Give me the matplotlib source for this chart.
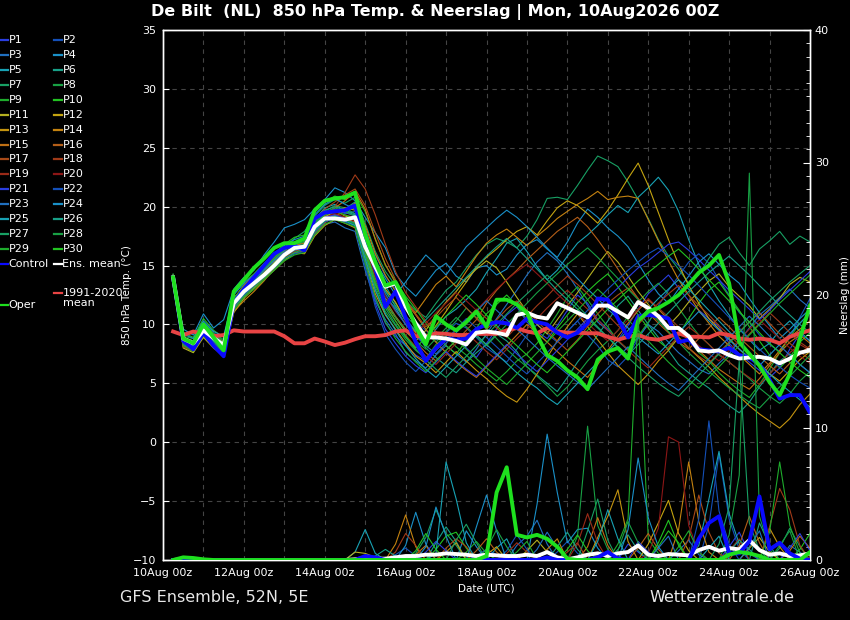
import matplotlib
matplotlib.use("Agg")
import matplotlib.pyplot as plt
import matplotlib.dates as mdates
from matplotlib.lines import Line2D
from matplotlib.ticker import MultipleLocator
import numpy as np
import pandas as pd

# forecast steps: +6h .. +384h of the 10Aug2026 00Z run
run_start = pd.Timestamp("2026-08-10 00:00")
steps = pd.date_range(run_start + pd.Timedelta(hours=6), periods=64, freq="6h")

# 850 hPa temperature (deg C)
oper_t = [14.0, 8.8, 8.4, 10.0, 8.9, 7.8, 12.8, 13.8,
          14.8, 15.6, 16.5, 16.9, 16.9, 17.3, 19.7, 20.5,
          20.7, 20.8, 21.2, 17.6, 15.3, 13.3, 13.6, 12.0,
          9.8, 8.3, 10.7, 10.0, 9.5, 10.2, 11.1, 9.8,
          12.1, 12.1, 11.7, 11.0, 9.1, 7.4, 6.9, 6.1,
          5.5, 4.5, 7.0, 7.7, 8.0, 7.1, 10.3, 11.1,
          11.4, 11.9, 12.5, 13.4, 14.4, 15.0, 15.9, 13.5,
          8.5, 7.5, 6.5, 5.1, 4.0, 5.8, 8.8, 11.6]
control_t = [14.0, 8.6, 7.9, 9.3, 8.2, 7.3, 11.8, 13.0,
             14.0, 15.0, 16.0, 16.5, 16.7, 16.3, 19.0, 19.5,
             19.6, 19.7, 20.1, 17.0, 14.8, 11.5, 12.8, 10.6,
             8.5, 6.9, 8.0, 8.8, 8.7, 8.8, 9.6, 10.0,
             10.2, 10.1, 9.7, 10.5, 10.2, 10.0, 9.3, 8.9,
             9.3, 10.1, 12.2, 12.1, 10.5, 8.9, 10.7, 10.8,
             10.7, 10.5, 8.5, 8.7, 7.9, 7.8, 7.7, 8.0,
             7.4, 7.2, 6.6, 5.3, 3.7, 4.0, 4.0, 2.5]
mean_t = [14.0, 8.8, 8.4, 9.5, 8.85, 8.25, 11.8, 12.8,
          13.5, 14.2, 15.0, 15.9, 16.5, 16.6, 18.3, 19.0,
          19.0, 18.9, 19.1, 16.6, 14.9, 13.2, 13.5, 11.5,
          10.1, 8.9, 8.9, 8.8, 8.6, 8.3, 9.3, 9.4,
          9.3, 9.1, 10.8, 11.0, 10.65, 10.5, 11.8, 11.4,
          11.0, 10.6, 11.6, 11.6, 11.1, 10.6, 11.9, 11.4,
          10.7, 9.7, 9.7, 9.0, 7.8, 7.7, 7.8, 7.4,
          7.1, 7.2, 7.25, 7.1, 6.7, 7.1, 7.6, 7.8]
clim_t = [9.4, 9.1, 9.4, 9.2, 9.0, 9.1, 9.5, 9.4,
          9.4, 9.4, 9.4, 9.0, 8.4, 8.4, 8.8, 8.55,
          8.25, 8.45, 8.75, 9.0, 9.0, 9.1, 9.4, 9.5,
          9.0, 9.0, 9.25, 9.2, 9.1, 9.1, 9.2, 9.2,
          9.2, 9.5, 9.7, 9.4, 9.25, 9.7, 9.4, 9.3,
          9.3, 9.25, 9.25, 8.95, 8.7, 8.95, 9.1, 8.8,
          8.7, 8.95, 9.25, 8.95, 8.95, 8.9, 9.25, 9.1,
          8.8, 8.7, 8.8, 8.7, 8.4, 8.95, 9.25, 9.5]

member_t = [
    [14.1, 8.5, 7.9, 9.2, 8.4, 7.6, 11.5, 12.6, 13.4, 14.3, 15.2, 16.0, 16.4, 16.2, 18.0, 18.9, 19.3, 19.0, 18.6, 15.2, 12.3, 10.1, 9.0, 8.2, 7.4, 6.9, 7.8, 8.6, 9.1, 8.0, 7.2, 8.4, 9.6, 10.8, 11.5, 10.2, 9.4, 8.8, 9.9, 11.2, 12.5, 11.8, 10.4, 9.6, 8.7, 9.9, 11.3, 12.6, 13.4, 14.2, 13.1, 12.0, 11.2, 10.5, 9.8, 8.4, 7.5, 6.8, 6.1, 5.5, 6.3, 7.9, 9.2, 8.6],
    [13.9, 8.9, 8.6, 9.8, 9.0, 8.3, 12.0, 13.1, 13.8, 14.5, 15.4, 16.2, 16.9, 17.0, 18.6, 19.5, 19.8, 19.4, 19.6, 17.8, 15.9, 14.1, 13.0, 11.6, 10.2, 9.5, 8.7, 9.3, 10.1, 9.7, 8.9, 8.0, 7.4, 6.8, 7.9, 9.1, 10.0, 9.2, 8.5, 9.4, 10.3, 9.1, 8.2, 7.0, 6.4, 7.3, 8.8, 10.1, 11.6, 12.9, 14.1, 15.3, 16.0, 15.2, 13.8, 12.5, 11.0, 10.2, 9.1, 8.3, 7.7, 8.9, 10.6, 12.2],
    [14.2, 8.3, 8.0, 9.6, 8.7, 7.9, 11.2, 12.5, 13.3, 14.0, 14.9, 15.8, 16.2, 16.4, 17.6, 18.5, 18.7, 18.2, 17.9, 14.6, 12.0, 10.4, 9.2, 7.6, 6.9, 6.3, 7.4, 8.2, 7.5, 6.8, 7.9, 9.2, 10.5, 11.7, 12.9, 14.2, 15.3, 16.1, 15.4, 14.3, 13.0, 11.6, 10.2, 9.5, 8.6, 7.8, 8.9, 10.0, 9.4, 8.5, 7.6, 6.9, 6.2, 5.8, 6.7, 7.5, 8.6, 9.7, 10.8, 11.5, 12.3, 13.0, 12.1, 11.4],
    [14.0, 9.6, 9.1, 10.9, 9.7, 10.4, 13.0, 14.0, 14.6, 15.9, 17.0, 18.2, 18.5, 18.9, 19.8, 20.6, 21.6, 21.2, 20.5, 19.1, 17.8, 16.5, 14.3, 13.2, 12.4, 13.5, 14.6, 15.2, 14.1, 13.6, 14.8, 15.0, 14.2, 14.7, 15.9, 16.8, 17.2, 16.4, 15.7, 17.0, 18.6, 19.8, 19.1, 18.2, 17.5, 16.6, 15.2, 13.8, 12.6, 11.8, 13.0, 14.1, 15.3, 16.0, 15.1, 14.2, 13.5, 12.2, 11.0, 9.9, 8.8, 9.6, 10.5, 11.3],
    [13.8, 8.6, 8.2, 9.4, 8.6, 8.0, 11.9, 13.2, 14.1, 14.8, 15.8, 16.6, 16.9, 17.2, 18.9, 19.9, 20.2, 19.6, 19.3, 16.5, 14.0, 12.2, 11.4, 10.0, 9.1, 8.4, 9.6, 10.7, 11.3, 12.1, 13.0, 14.4, 15.6, 16.9, 17.3, 16.2, 14.9, 13.8, 14.6, 15.8, 16.9, 17.6, 18.4, 19.3, 20.1, 19.5, 20.8, 21.6, 22.5, 21.4, 19.6, 17.2, 15.1, 13.4, 12.0, 10.8, 9.6, 8.7, 7.8, 8.4, 9.5, 10.3, 9.4, 8.6],
    [14.1, 8.7, 8.5, 9.9, 9.1, 8.4, 12.3, 13.0, 13.9, 14.6, 15.5, 16.3, 16.8, 16.7, 18.4, 19.2, 19.5, 19.8, 20.4, 18.2, 15.5, 13.3, 11.8, 10.5, 9.4, 8.0, 7.2, 6.5, 5.9, 6.8, 7.6, 8.3, 9.2, 8.6, 7.7, 6.4, 5.7, 5.0, 4.3, 5.5, 6.8, 7.9, 9.1, 10.3, 11.6, 12.4, 11.2, 10.0, 8.9, 7.8, 6.6, 5.9, 5.2, 4.6, 3.8, 3.1, 2.5, 3.4, 4.7, 5.8, 6.9, 7.5, 6.6, 5.9],
    [13.7, 8.4, 8.1, 9.3, 8.5, 7.8, 11.6, 12.9, 13.6, 14.4, 15.6, 16.5, 17.3, 17.9, 19.2, 20.1, 20.6, 20.3, 20.8, 18.6, 16.2, 14.5, 13.3, 12.0, 11.2, 10.6, 11.8, 12.9, 13.6, 14.8, 15.9, 16.8, 17.3, 17.0, 16.5, 17.5, 18.9, 20.7, 20.8, 20.6, 21.8, 23.1, 24.3, 23.9, 23.4, 22.1, 20.6, 19.0, 17.2, 15.8, 14.7, 13.5, 14.2, 15.6, 16.8, 17.4, 16.1, 15.0, 16.4, 17.1, 17.9, 16.8, 17.5, 17.0],
    [14.3, 9.0, 8.8, 10.2, 9.3, 8.7, 12.1, 13.4, 14.0, 14.9, 15.7, 16.4, 16.6, 17.1, 18.7, 19.6, 20.1, 19.9, 19.4, 16.8, 14.6, 12.9, 11.5, 10.7, 9.9, 9.2, 8.5, 9.4, 10.3, 11.4, 10.6, 9.7, 8.8, 7.9, 7.1, 6.4, 5.6, 4.8, 3.9, 4.7, 5.8, 6.9, 7.8, 8.6, 9.5, 10.7, 11.9, 12.8, 13.5, 12.6, 11.4, 10.2, 9.1, 8.3, 7.4, 6.8, 6.1, 5.4, 4.6, 3.9, 3.3, 4.1, 5.2, 6.0],
    [14.0, 8.1, 7.7, 9.0, 8.2, 7.5, 11.3, 12.4, 13.2, 13.9, 14.7, 15.5, 16.0, 16.3, 17.9, 18.8, 19.1, 18.9, 18.5, 15.8, 13.0, 11.1, 9.9, 8.7, 7.8, 7.1, 8.3, 9.0, 8.1, 7.4, 6.6, 5.9, 5.2, 6.0, 6.9, 7.5, 8.4, 9.6, 10.9, 12.3, 13.2, 12.1, 10.9, 9.8, 8.6, 7.9, 9.0, 10.2, 11.4, 10.6, 9.8, 8.7, 7.6, 6.9, 5.9, 5.1, 4.4, 3.8, 4.9, 6.2, 7.6, 8.9, 10.1, 11.0],
    [13.9, 9.3, 8.9, 10.5, 9.5, 8.9, 12.6, 13.6, 14.3, 15.2, 16.0, 16.8, 17.4, 17.6, 19.5, 20.4, 20.9, 20.6, 21.1, 19.6, 17.3, 15.0, 13.7, 12.4, 11.3, 10.1, 9.0, 8.2, 7.5, 8.6, 9.7, 10.9, 11.7, 12.5, 11.6, 10.4, 9.3, 8.5, 9.7, 10.8, 11.9, 12.8, 13.6, 14.3, 13.2, 12.0, 10.8, 9.7, 8.6, 7.9, 9.1, 10.5, 11.8, 12.9, 13.6, 12.4, 11.2, 9.8, 8.6, 7.4, 6.3, 7.2, 8.5, 9.3],
    [14.1, 8.0, 7.6, 8.9, 8.0, 7.3, 11.0, 12.2, 13.1, 14.1, 15.1, 15.9, 16.5, 16.8, 18.1, 19.3, 19.7, 19.2, 19.0, 16.0, 13.4, 11.8, 10.6, 9.4, 8.6, 9.5, 10.8, 11.9, 12.8, 13.9, 14.7, 15.4, 14.8, 13.6, 12.3, 11.1, 10.0, 9.2, 10.4, 11.6, 12.7, 13.9, 15.1, 16.2, 15.3, 14.1, 12.8, 11.7, 10.6, 9.9, 10.8, 11.9, 12.8, 13.7, 14.3, 13.2, 12.4, 11.6, 10.5, 11.3, 12.2, 13.4, 14.0, 13.6],
    [13.8, 8.8, 8.4, 9.7, 8.9, 8.1, 11.7, 12.7, 13.5, 14.2, 15.3, 16.1, 16.7, 17.0, 18.2, 19.1, 19.6, 19.9, 19.7, 17.1, 14.8, 13.0, 11.9, 10.3, 9.3, 8.7, 9.9, 11.1, 12.4, 13.6, 14.9, 15.7, 16.4, 17.2, 17.9, 18.3, 17.6, 18.8, 19.9, 20.5, 20.1, 19.4, 18.6, 19.7, 21.0, 22.4, 23.7, 21.8, 19.5, 17.2, 15.1, 13.3, 11.8, 10.5, 9.6, 8.8, 7.9, 7.1, 6.5, 5.8, 5.2, 6.1, 7.0, 7.7],
    [14.2, 8.6, 8.3, 9.5, 8.7, 8.0, 11.4, 12.3, 13.0, 13.8, 14.6, 15.4, 16.1, 16.0, 17.5, 18.4, 18.9, 18.6, 18.2, 15.4, 12.6, 10.8, 9.6, 8.4, 7.3, 6.7, 5.9, 6.8, 7.7, 6.9, 6.1, 5.4, 4.6, 3.9, 3.4, 4.5, 5.8, 7.2, 8.6, 9.8, 10.9, 9.8, 8.7, 7.6, 6.5, 5.7, 4.9, 5.8, 6.9, 7.8, 8.9, 8.0, 7.2, 6.4, 5.5, 4.7, 3.9, 3.1, 2.4, 1.8, 1.2, 2.0, 3.2, 4.1],
    [13.9, 8.2, 7.8, 9.1, 8.3, 7.6, 11.1, 12.0, 12.8, 13.7, 14.8, 15.7, 16.3, 16.5, 17.8, 18.7, 19.2, 19.6, 20.3, 18.4, 16.0, 14.2, 12.8, 11.9, 11.0, 12.2, 13.4, 14.1, 13.2, 14.5, 15.8, 16.9, 17.6, 18.1, 17.4, 16.7, 17.5, 18.2, 19.0, 19.6, 20.2, 20.7, 21.3, 20.6, 20.8, 20.9, 20.7, 18.9, 17.1, 15.4, 13.8, 12.5, 11.2, 10.1, 9.0, 8.2, 7.4, 6.6, 5.8, 6.7, 7.8, 8.9, 9.6, 10.3],
    [14.0, 8.9, 8.6, 10.0, 9.2, 8.5, 12.2, 13.3, 14.2, 14.9, 15.6, 16.4, 16.7, 16.9, 18.3, 19.4, 19.9, 20.5, 21.3, 19.8, 17.2, 15.1, 13.5, 11.9, 10.8, 9.6, 8.5, 7.6, 6.8, 6.1, 5.5, 6.4, 7.3, 8.2, 9.1, 10.0, 9.3, 8.5, 7.7, 6.9, 6.2, 5.5, 6.6, 7.8, 9.0, 10.1, 11.2, 12.1, 11.3, 10.4, 9.5, 8.7, 7.8, 7.0, 6.2, 5.6, 5.0, 4.5, 5.4, 6.5, 7.6, 8.5, 9.1, 8.4],
    [14.1, 8.4, 8.0, 9.4, 8.5, 7.7, 11.6, 12.8, 13.6, 14.4, 15.2, 15.9, 16.3, 16.2, 17.7, 18.6, 19.3, 19.0, 18.7, 16.4, 13.9, 12.1, 10.7, 9.6, 8.5, 7.6, 6.9, 7.8, 8.6, 9.5, 10.4, 11.8, 12.9, 13.8, 14.6, 15.5, 16.3, 17.1, 17.9, 18.5, 19.1, 18.3, 17.2, 16.0, 14.7, 13.4, 12.2, 11.0, 10.1, 9.3, 8.5, 7.9, 8.8, 9.7, 10.6, 9.8, 8.9, 8.1, 7.3, 6.5, 5.8, 6.7, 7.5, 8.2],
    [13.8, 8.5, 8.1, 9.6, 8.8, 8.2, 11.8, 12.9, 13.7, 14.5, 15.5, 16.3, 16.9, 17.3, 18.8, 19.8, 20.4, 21.0, 21.5, 20.1, 17.8, 15.6, 13.8, 12.1, 10.9, 9.8, 10.6, 11.5, 12.3, 11.4, 10.5, 9.6, 10.4, 11.3, 12.0, 11.2, 10.3, 9.4, 8.6, 7.8, 8.7, 9.8, 10.9, 11.8, 12.5, 13.1, 12.2, 11.3, 10.5, 9.7, 8.9, 8.0, 7.3, 6.7, 7.6, 8.5, 9.4, 10.2, 11.0, 10.1, 9.2, 8.4, 7.7, 7.0],
    [14.0, 8.1, 7.8, 9.2, 8.4, 7.7, 11.3, 12.4, 13.2, 14.0, 14.9, 15.7, 16.2, 16.5, 18.0, 19.2, 20.0, 21.2, 22.7, 21.5, 19.3, 16.8, 14.5, 12.7, 11.5, 10.3, 9.4, 8.6, 9.5, 10.4, 11.3, 10.5, 9.7, 8.9, 9.8, 10.7, 11.6, 12.4, 13.3, 14.1, 13.4, 12.6, 11.7, 10.8, 9.9, 9.1, 10.0, 10.9, 11.8, 12.6, 13.3, 12.5, 11.6, 10.8, 9.9, 9.1, 8.3, 9.2, 10.1, 11.0, 10.2, 9.3, 8.5, 7.9],
    [14.2, 8.7, 8.3, 9.7, 8.8, 8.1, 11.9, 12.8, 13.5, 14.3, 15.1, 15.9, 16.4, 16.6, 18.1, 19.0, 19.4, 19.1, 18.8, 16.2, 13.6, 11.7, 10.3, 9.1, 8.1, 7.3, 6.6, 7.5, 8.4, 9.3, 8.5, 7.7, 7.0, 7.9, 8.8, 9.6, 10.5, 11.4, 12.2, 12.9, 12.1, 11.3, 10.4, 9.5, 8.7, 7.8, 7.0, 6.3, 7.2, 8.1, 9.0, 9.8, 9.1, 8.3, 7.5, 6.8, 6.1, 5.5, 4.9, 5.8, 6.7, 7.6, 8.3, 7.8],
    [13.9, 8.3, 8.0, 9.3, 8.6, 7.9, 11.5, 12.6, 13.3, 14.2, 15.0, 15.8, 16.3, 16.7, 18.2, 19.0, 19.5, 19.3, 19.1, 16.6, 14.1, 12.4, 11.1, 10.1, 9.2, 10.1, 11.0, 11.8, 12.7, 12.0, 11.2, 12.1, 13.0, 13.8, 14.5, 15.1, 14.3, 13.5, 12.6, 11.8, 10.9, 10.1, 9.3, 8.6, 9.5, 10.4, 11.3, 12.2, 11.4, 10.6, 9.8, 9.0, 8.2, 7.5, 6.9, 7.8, 8.7, 9.6, 10.4, 9.6, 8.8, 8.0, 7.3, 6.7],
    [14.0, 8.6, 8.2, 9.5, 8.7, 8.0, 11.7, 12.7, 13.4, 14.1, 15.0, 15.8, 16.4, 16.6, 18.2, 19.1, 19.3, 19.0, 18.9, 15.3, 11.8, 9.6, 8.4, 7.3, 6.5, 5.9, 6.8, 7.7, 6.9, 6.2, 5.6, 6.5, 7.4, 8.3, 7.5, 6.7, 6.0, 6.9, 7.8, 8.7, 9.6, 10.5, 11.4, 12.3, 13.1, 14.0, 14.8, 15.4, 16.1, 16.8, 17.0, 16.3, 15.5, 14.6, 13.8, 12.9, 12.1, 11.3, 10.4, 11.2, 12.1, 12.9, 13.7, 14.5],
    [14.1, 8.4, 8.0, 9.3, 8.5, 7.8, 11.4, 12.5, 13.3, 14.0, 14.8, 15.6, 16.0, 16.2, 17.8, 18.7, 19.0, 18.7, 18.4, 14.9, 11.5, 9.2, 7.9, 6.8, 6.0, 6.9, 7.8, 8.7, 9.6, 10.5, 9.7, 8.9, 8.1, 7.3, 6.5, 5.8, 6.7, 7.6, 8.5, 9.4, 10.3, 11.2, 12.1, 13.0, 13.8, 14.6, 15.3, 16.0, 16.5, 15.8, 15.0, 14.2, 13.3, 12.4, 11.5, 10.6, 9.7, 8.8, 7.9, 7.1, 6.4, 5.7, 5.1, 4.6],
    [13.8, 8.7, 8.4, 9.8, 9.0, 8.3, 12.0, 13.0, 13.7, 14.6, 15.4, 16.1, 16.6, 16.8, 18.5, 19.4, 19.7, 19.5, 19.2, 16.9, 14.4, 12.6, 11.2, 10.0, 9.0, 8.2, 7.5, 8.4, 9.3, 10.2, 11.1, 12.0, 11.2, 10.4, 9.6, 8.8, 8.0, 7.2, 6.5, 5.8, 5.1, 4.5, 5.4, 6.3, 7.2, 8.1, 7.3, 6.5, 5.7, 5.0, 4.4, 5.3, 6.2, 7.1, 8.0, 8.9, 9.8, 10.7, 9.9, 9.0, 8.2, 7.4, 6.6, 5.9],
    [14.0, 9.2, 8.8, 10.3, 9.4, 9.0, 12.5, 13.5, 14.2, 15.1, 15.9, 16.7, 17.2, 17.5, 19.3, 20.2, 20.7, 20.2, 19.8, 17.5, 15.3, 13.9, 12.5, 13.6, 14.8, 15.9, 15.1, 14.2, 15.4, 16.6, 17.4, 18.2, 19.0, 19.7, 19.1, 18.3, 17.4, 16.5, 15.6, 14.8, 13.9, 13.0, 12.2, 11.3, 10.5, 9.7, 8.9, 8.2, 7.5, 8.4, 9.3, 10.2, 11.1, 10.3, 9.5, 8.7, 7.9, 7.2, 6.5, 7.4, 8.3, 9.2, 10.1, 11.0],
    [14.1, 8.5, 8.1, 9.4, 8.6, 7.9, 11.6, 12.6, 13.4, 14.2, 15.0, 15.8, 16.3, 16.5, 18.0, 18.9, 19.2, 18.8, 18.4, 15.6, 12.9, 10.9, 9.5, 8.2, 7.1, 6.2, 5.5, 6.4, 7.3, 8.2, 9.1, 8.3, 7.5, 6.7, 5.9, 5.2, 4.6, 3.8, 3.2, 4.1, 5.0, 5.9, 6.8, 7.7, 8.6, 9.5, 10.4, 11.3, 12.2, 13.0, 13.8, 13.0, 12.1, 11.2, 10.3, 9.4, 8.5, 7.6, 6.7, 5.8, 5.0, 4.3, 3.6, 3.0],
    [13.9, 8.8, 8.5, 9.9, 9.1, 8.4, 12.1, 13.1, 13.8, 14.7, 15.5, 16.3, 16.9, 17.2, 18.8, 19.7, 20.0, 19.7, 19.4, 17.0, 14.5, 12.8, 11.6, 10.3, 9.5, 10.4, 11.3, 12.2, 13.1, 14.0, 14.9, 15.8, 16.6, 17.3, 16.5, 15.6, 14.7, 13.8, 12.9, 12.1, 11.3, 10.5, 9.7, 8.9, 8.1, 7.4, 8.3, 9.2, 10.1, 11.0, 11.9, 12.8, 13.6, 14.4, 15.1, 15.8, 15.0, 14.2, 13.3, 12.5, 11.6, 10.8, 10.0, 9.3],
    [14.2, 8.3, 7.9, 9.2, 8.4, 7.6, 11.4, 12.4, 13.2, 14.0, 14.8, 15.6, 16.1, 16.4, 17.9, 18.8, 19.2, 18.9, 18.6, 15.9, 13.2, 11.4, 10.0, 8.9, 7.9, 7.0, 6.2, 5.5, 6.4, 7.3, 8.2, 9.1, 10.0, 10.9, 11.8, 12.6, 13.4, 14.2, 13.4, 12.5, 11.6, 10.7, 9.8, 8.9, 8.0, 7.2, 6.4, 5.7, 5.0, 4.4, 3.9, 4.8, 5.7, 6.6, 7.5, 8.4, 9.3, 10.2, 11.1, 12.0, 12.8, 13.6, 14.3, 15.0],
    [14.0, 8.9, 8.6, 10.1, 9.2, 8.6, 12.2, 13.2, 13.9, 14.8, 15.6, 16.4, 16.8, 17.0, 18.6, 19.5, 19.9, 19.6, 19.2, 16.4, 13.7, 11.9, 10.6, 9.5, 8.6, 7.9, 8.8, 9.7, 10.6, 9.8, 9.0, 8.2, 9.1, 10.0, 10.9, 11.8, 12.7, 13.5, 14.3, 15.1, 15.8, 16.5, 15.7, 14.8, 13.9, 13.0, 12.1, 11.2, 10.3, 9.4, 8.5, 7.6, 6.8, 6.0, 5.3, 4.6, 4.0, 3.4, 2.9, 3.8, 4.7, 5.6, 6.5, 7.4],
    [13.8, 8.2, 7.8, 9.1, 8.3, 7.5, 11.2, 12.3, 13.0, 13.8, 14.6, 15.4, 15.9, 16.1, 17.6, 18.5, 18.9, 18.6, 18.3, 15.2, 12.3, 10.2, 8.8, 7.7, 6.8, 6.0, 6.9, 7.8, 8.7, 7.9, 7.1, 6.3, 5.6, 4.9, 5.8, 6.7, 7.6, 8.5, 9.4, 10.3, 11.2, 12.1, 13.0, 12.2, 11.3, 10.4, 9.5, 8.6, 7.7, 6.8, 6.0, 5.3, 4.6, 5.5, 6.4, 7.3, 8.2, 9.1, 10.0, 10.9, 11.8, 12.6, 13.4, 14.2],
    [14.1, 8.6, 8.3, 9.6, 8.8, 8.1, 11.8, 12.8, 13.6, 14.4, 15.2, 16.0, 16.5, 16.8, 18.4, 19.3, 19.6, 19.3, 19.0, 16.3, 13.5, 11.6, 10.3, 9.0, 8.0, 8.9, 9.8, 10.7, 11.6, 12.5, 11.7, 10.8, 9.9, 9.0, 8.2, 7.4, 6.6, 5.9, 6.8, 7.7, 8.6, 9.5, 10.4, 11.3, 12.1, 12.9, 13.7, 14.4, 15.1, 15.8, 16.4, 15.6, 14.7, 13.8, 12.9, 12.0, 11.1, 10.2, 9.3, 8.4, 7.6, 6.8, 6.1, 5.5],
]

# precipitation (mm per 6h)
oper_rain = [0, 0.2, 0.15, 0.05, 0, 0, 0, 0,
             0, 0, 0, 0, 0, 0, 0, 0,
             0, 0, 0, 0, 0, 0, 0, 0,
             0, 0, 0, 0, 0, 0, 0, 0.3,
             5.1, 7.0, 1.9, 1.7, 1.9, 1.6, 1.0, 0.1,
             0, 0, 0, 0, 0, 0, 0, 0,
             0, 0, 0, 0, 0, 0, 0, 0.4,
             0.6, 0.5, 0.3, 0, 0, 0, 0, 0.6]
control_rain = [0, 0, 0, 0, 0, 0, 0, 0,
                0, 0, 0, 0, 0, 0, 0, 0,
                0, 0, 0, 0.3, 0.2, 0, 0, 0,
                0, 0, 0, 0, 0, 0, 0, 0,
                0, 0, 0, 0, 0, 0.2, 0, 0,
                0, 0, 0.2, 0.6, 0.1, 0, 0, 0,
                0, 0, 0, 0, 1.6, 2.8, 3.3, 0.5,
                0.5, 1.4, 4.8, 0.8, 1.3, 0.5, 0.1, 0]
mean_rain = [0, 0.05, 0.05, 0, 0, 0, 0, 0,
             0, 0, 0, 0, 0, 0, 0, 0,
             0, 0, 0.05, 0.15, 0.1, 0.1, 0.2, 0.3,
             0.3, 0.4, 0.4, 0.5, 0.45, 0.4, 0.3, 0.4,
             0.35, 0.3, 0.3, 0.4, 0.3, 0.6, 0.2, 0.05,
             0.2, 0.4, 0.5, 0.3, 0.5, 0.6, 1.1, 0.4,
             0.3, 0.45, 0.4, 0.35, 0.75, 1.0, 0.7, 0.9,
             0.8, 1.5, 0.75, 0.4, 0.5, 0.3, 0.35, 0.5]
# members: {step index: mm}, all other steps dry
member_rain = [
    {30: 0.3, 31: 0.8, 32: 0.4, 45: 1.2, 46: 0.6, 55: 1.0, 56: 2.1, 57: 0.5},
    {22: 0.4, 23: 0.9, 24: 0.3, 38: 0.6, 39: 1.4, 40: 0.5, 53: 2.6, 54: 8.0, 55: 3.1, 56: 0.8},
    {21: 0.2, 34: 1.1, 35: 1.8, 36: 3.0, 37: 1.2, 50: 0.7, 51: 1.5, 52: 0.4, 61: 1.1, 62: 0.6},
    {23: 1.1, 24: 3.6, 25: 1.2, 29: 2.2, 30: 1.0, 36: 4.2, 37: 9.5, 38: 5.1, 39: 1.3, 40: 2.3, 41: 2.4, 42: 0.9},
    {18: 0.6, 19: 2.3, 20: 0.5, 32: 0.9, 33: 1.6, 52: 1.1, 53: 4.6, 54: 8.2, 55: 3.5, 56: 1.2},
    {1: 0.2, 2: 0.1, 26: 1.3, 27: 2.5, 28: 1.4, 44: 0.8, 45: 1.9, 46: 0.7, 58: 2.8, 59: 1.1},
    {24: 0.5, 25: 1.7, 26: 3.8, 27: 2.0, 28: 1.1, 41: 2.2, 42: 4.6, 43: 1.5, 60: 0.9, 61: 2.4, 62: 1.0},
    {40: 1.8, 41: 10.1, 42: 2.6, 43: 0.8, 55: 1.9, 56: 6.4, 57: 29.2, 58: 3.3, 59: 0.8},
    {29: 0.6, 30: 1.4, 31: 0.5, 44: 1.2, 45: 3.1, 46: 18.5, 47: 1.6, 48: 0.5},
    {26: 0.8, 27: 1.8, 28: 2.1, 29: 0.9, 48: 1.0, 49: 2.2, 50: 1.3, 62: 0.8, 63: 2.0},
    {18: 0.6, 19: 0.5, 20: 0.2, 35: 0.7, 36: 1.5, 37: 0.6, 57: 0.9, 58: 1.7, 59: 0.6},
    {31: 0.4, 32: 1.0, 47: 1.2, 48: 2.8, 49: 4.5, 50: 2.0, 51: 0.7},
    {27: 0.6, 28: 1.3, 42: 1.7, 43: 3.3, 44: 5.3, 45: 1.4, 59: 2.4, 60: 1.0},
    {22: 1.2, 23: 3.4, 24: 1.0, 37: 0.8, 38: 1.6, 50: 2.3, 51: 7.4, 52: 2.9, 53: 0.6},
    {24: 0.4, 25: 1.1, 41: 1.0, 42: 3.2, 43: 1.1, 61: 0.7, 62: 1.8, 63: 0.9},
    {30: 0.7, 31: 1.6, 32: 0.6, 46: 0.9, 47: 2.0, 48: 0.8, 56: 1.1, 57: 3.3, 58: 1.3},
    {27: 0.9, 28: 1.6, 29: 1.0, 51: 1.6, 52: 4.9, 53: 2.1, 54: 0.5},
    {22: 0.6, 23: 2.0, 24: 1.1, 39: 0.6, 40: 1.3, 59: 2.5, 60: 5.4, 61: 3.8, 62: 1.1},
    {33: 0.5, 34: 1.3, 35: 0.6, 40: 1.2, 41: 3.5, 42: 1.3, 55: 0.7, 56: 1.6},
    {47: 0.5, 48: 2.4, 49: 9.3, 50: 8.9, 51: 2.6, 52: 0.6},
    {25: 0.6, 26: 1.4, 27: 0.7, 46: 1.4, 47: 0.6, 61: 0.9, 62: 2.0, 63: 0.7},
    {33: 0.7, 34: 1.9, 35: 0.8, 52: 3.1, 53: 10.5, 54: 3.7, 55: 1.2},
    {36: 0.8, 37: 2.1, 38: 0.9, 48: 0.9, 49: 1.8, 57: 1.0, 58: 2.2},
    {25: 1.0, 26: 4.0, 27: 1.8, 30: 2.5, 31: 4.9, 32: 2.2, 45: 2.3, 46: 7.7, 47: 3.2, 48: 1.0},
    {26: 0.5, 27: 7.4, 28: 4.6, 29: 1.3, 42: 1.4, 43: 3.8, 44: 1.6, 53: 0.9, 54: 1.8},
    {20: 0.3, 21: 0.8, 22: 0.3, 38: 1.0, 39: 2.1, 40: 0.8, 55: 0.6, 56: 1.5, 57: 0.8},
    {28: 1.5, 29: 2.7, 30: 1.3, 54: 1.2, 55: 4.0, 56: 15.0, 57: 2.8, 58: 0.7},
    {31: 0.8, 32: 2.3, 33: 1.0, 44: 0.7, 45: 2.9, 46: 1.3, 60: 1.1, 61: 2.2},
    {34: 0.6, 35: 1.4, 50: 1.0, 51: 2.2, 52: 0.6, 59: 2.1, 60: 7.4, 61: 2.6, 62: 0.5},
    {24: 0.7, 25: 2.0, 26: 0.8, 39: 0.8, 40: 1.9, 41: 0.7, 48: 1.3, 49: 3.0, 50: 1.1},
]

base_colors = ['#2a3ee0', '#1450b8', '#2070c0', '#1a90c8', '#18a2b4',
               '#18a088', '#18a064', '#18a044', '#1eac2c', '#22c222',
               '#b4b020', '#c4a410', '#c49410', '#c48210', '#c07014',
               '#b45e18', '#a84a18', '#a03a18', '#9a2a18', '#8c1616']
member_colors = base_colors + base_colors[:10]

BG = 'black'
FG = 'white'

fig = plt.figure(figsize=(8.5, 6.2), dpi=100, facecolor=BG)
ax = fig.add_axes([163 / 850, 1 - 560 / 620, 647 / 850, 530 / 620], facecolor=BG)
ax2 = ax.twinx()

x = mdates.date2num(steps)

for i, row in enumerate(member_t):
    ax.plot(x, row, color=member_colors[i], lw=0.8, zorder=2)
ax.plot(x, clim_t, color='#e84444', lw=2.8, zorder=3)
ax.plot(x, control_t, color='#0a0aff', lw=2.8, zorder=4)
ax.plot(x, mean_t, color='white', lw=2.8, zorder=5)
ax.plot(x, oper_t, color='#1ee01e', lw=2.8, zorder=6)

for i, d in enumerate(member_rain):
    r = np.zeros(len(steps))
    for k, v in d.items():
        r[k] = v
    ax2.plot(x, r, color=member_colors[i], lw=0.8, zorder=2)
ax2.plot(x, mean_rain, color='white', lw=2.8, zorder=3)
ax2.plot(x, control_rain, color='#0a0aff', lw=2.8, zorder=4)
ax2.plot(x, oper_rain, color='#1ee01e', lw=2.8, zorder=5)

ax.set_xlim(mdates.date2num(run_start), mdates.date2num(run_start + pd.Timedelta(days=16)))
ax.set_ylim(-10, 35)
ax2.set_ylim(0, 40)

ax.xaxis.set_major_locator(mdates.DayLocator(interval=2))
ax.xaxis.set_minor_locator(mdates.DayLocator())
ax.xaxis.set_major_formatter(mdates.DateFormatter('%d%b %Hz'))
ax.yaxis.set_major_locator(MultipleLocator(5))
ax2.yaxis.set_major_locator(MultipleLocator(10))
ax2.yaxis.set_minor_locator(MultipleLocator(1))

ax.grid(True, which='both', axis='x', color='#444444', ls=(0, (4, 4)), lw=0.8)
ax.grid(True, which='major', axis='y', color='#444444', ls=(0, (4, 4)), lw=0.8)
ax.set_axisbelow(True)

for a in (ax, ax2):
    for s in a.spines.values():
        s.set_color(FG)
        s.set_linewidth(1.0)
ax.tick_params(axis='both', which='both', colors=FG, labelsize=8, direction='in')
ax.tick_params(axis='x', which='both', length=0, pad=6)
ax.tick_params(axis='y', length=4, pad=5)
ax2.tick_params(axis='y', which='major', colors=FG, labelsize=8, direction='in', length=5)
ax2.tick_params(axis='y', which='minor', colors=FG, direction='in', length=3)

ax.set_ylabel('850 hPa Temp. (°C)', color=FG, fontsize=7.5)
ax.yaxis.set_label_coords((131.5 - 163) / 647, 0.5)
ax2.set_ylabel('Neerslag (mm)', color=FG, fontsize=7.5)
ax2.yaxis.set_label_coords((840 - 163) / 647, 0.5)
ax.set_xlabel('Date (UTC)', color=FG, fontsize=7.5, labelpad=4)

fig.text(435 / 850, 1 - 12 / 620, 'De Bilt  (NL)  850 hPa Temp. & Neerslag | Mon, 10Aug2026 00Z',
         color=FG, fontsize=11.5, fontweight='bold', ha='center', va='center')
fig.text(120 / 850, 1 - 598 / 620, 'GFS Ensemble, 52N, 5E', color='#e8e8e8',
         fontsize=11.5, ha='left', va='center')
fig.text(794 / 850, 1 - 598 / 620, 'Wetterzentrale.de', color='#e8e8e8',
         fontsize=11.5, ha='right', va='center')

# legend drawn by hand, two columns in the left margin
def legend_entry(px, py, color, label):
    fig.add_artist(Line2D([px / 850, (px + 8) / 850], [1 - py / 620, 1 - py / 620],
                          color=color, lw=1.6, transform=fig.transFigure))
    fig.text((px + 8.5) / 850, 1 - py / 620, label, color=FG, fontsize=8,
             ha='left', va='center')

for i in range(30):
    col = i % 2
    row = i // 2
    legend_entry(0 if col == 0 else 54, 40 + 14.93 * row, member_colors[i], 'P%d' % (i + 1))
legend_entry(0, 264, '#0a0aff', 'Control')
legend_entry(54, 264, 'white', 'Ens. mean')
legend_entry(54, 293, '#e84444', '1991-2020')
fig.text(62.5 / 850, 1 - 303 / 620, 'mean', color=FG, fontsize=8, ha='left', va='center')
legend_entry(0, 305, '#1ee01e', 'Oper')

fig.savefig('out.png', dpi=100, facecolor=BG)
